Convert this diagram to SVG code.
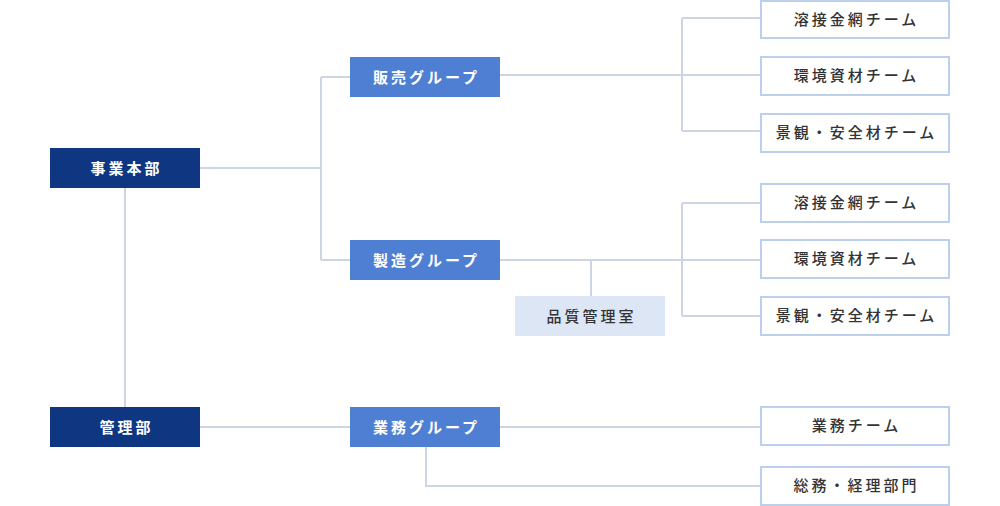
<svg xmlns="http://www.w3.org/2000/svg" width="1000" height="506" viewBox="0 0 1000 506">
<style>
.ln{stroke:#cbd5e4;stroke-width:2;fill:none}
.dept{fill:#0f3680}
.grp{fill:#4f7fd3}
.team{fill:#fff;stroke:#bccfec;stroke-width:2}
.qa{fill:#dde6f5}
text{font-family:"Noto Sans CJK JP","Noto Sans",sans-serif;font-size:15px;letter-spacing:3px;text-anchor:middle}
.w{fill:#fff;font-weight:700}
.d{fill:#333;font-weight:500}
</style>
<rect width="1000" height="506" fill="#fff"/>
<g id="connectors">
<path class="ln" d="M200 168H321M321 77V260M321 77H350M321 260H350"/>
<path class="ln" d="M125 188V407"/>
<path class="ln" d="M500 75H761M682 18V131M682 18H761M682 131H761"/>
<path class="ln" d="M500 260H761M682 203V316M682 203H761M682 316H761"/>
<path class="ln" d="M591 260V296"/>
<path class="ln" d="M200 427H350"/>
<path class="ln" d="M500 427H761"/>
<path class="ln" d="M426 447V486H761"/>
</g>
<g id="jigyo"><rect class="dept" x="50" y="148" width="150" height="40"/><text class="w" x="126.5" y="173.5">事業本部</text></g>
<g id="kanri"><rect class="dept" x="50" y="407" width="150" height="40"/><text class="w" x="126.5" y="432.5">管理部</text></g>
<g id="hanbai"><rect class="grp" x="350" y="57" width="150" height="40"/><text class="w" x="426.5" y="82.5">販売グループ</text></g>
<g id="seizo"><rect class="grp" x="350" y="240" width="150" height="40"/><text class="w" x="426.5" y="265.5">製造グループ</text></g>
<g id="gyomu"><rect class="grp" x="350" y="407" width="150" height="40"/><text class="w" x="426.5" y="432.5">業務グループ</text></g>
<g id="hinshitsu"><rect class="qa" x="515" y="296" width="150" height="40"/><text class="d" x="591.5" y="321.5">品質管理室</text></g>
<g id="team1"><rect class="team" x="761" y="1" width="188" height="37"/><text class="d" x="856.5" y="24.5">溶接金網チーム</text></g>
<g id="team2"><rect class="team" x="761" y="57" width="188" height="38"/><text class="d" x="856.5" y="81">環境資材チーム</text></g>
<g id="team3"><rect class="team" x="761" y="114" width="188" height="38"/><text class="d" x="856.5" y="138">景観・安全材チーム</text></g>
<g id="team4"><rect class="team" x="761" y="184" width="188" height="38"/><text class="d" x="856.5" y="208">溶接金網チーム</text></g>
<g id="team5"><rect class="team" x="761" y="240" width="188" height="38"/><text class="d" x="856.5" y="264">環境資材チーム</text></g>
<g id="team6"><rect class="team" x="761" y="297" width="188" height="38"/><text class="d" x="856.5" y="321">景観・安全材チーム</text></g>
<g id="team7"><rect class="team" x="761" y="407" width="188" height="38"/><text class="d" x="856.5" y="431">業務チーム</text></g>
<g id="team8"><rect class="team" x="761" y="467" width="188" height="38"/><text class="d" x="856.5" y="491">総務・経理部門</text></g>
</svg>
